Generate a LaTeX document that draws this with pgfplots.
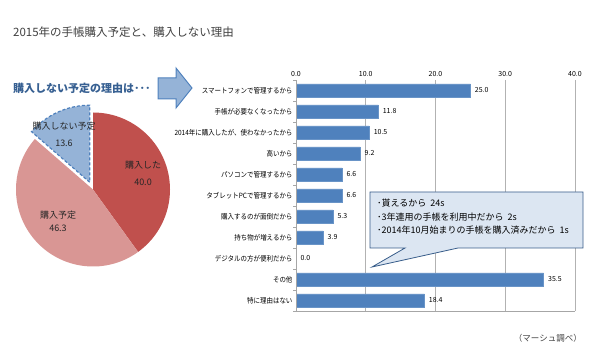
\documentclass[border=0pt]{standalone}
\usepackage{pgfplots}
\pgfplotsset{compat=1.18}
\usepackage{fontspec}
\setmainfont{Noto Sans CJK JP}
\newfontfamily\cond[FakeStretch=0.9]{Noto Sans CJK JP}
\definecolor{barblue}{HTML}{4F81BD}
\definecolor{pred}{HTML}{C0504D}
\definecolor{ppink}{HTML}{D99694}
\definecolor{pblue}{HTML}{95B3D7}
\definecolor{headblue}{HTML}{376092}
\definecolor{titlegray}{HTML}{404040}
\definecolor{callfill}{HTML}{DCE6F2}
\definecolor{callborder}{HTML}{385D8A}
\begin{document}
\begin{tikzpicture}[x=1pt,y=1pt]
\useasboundingbox (0,0) rectangle (600,-358);
% titles
\node[anchor=west, inner sep=0, font=\fontsize{11.5}{12}\selectfont, text=titlegray] at (13,-32) {2015年の手帳購入予定と、購入しない理由};
\node[anchor=west, inner sep=0, font=\bfseries\fontsize{11}{12}\selectfont, text=headblue] at (13,-88) {購入しない予定の理由は･･･};
% arrow
\draw[fill=pblue, draw=barblue, line width=1pt, line join=miter] (158,-78) -- (176,-78) -- (176,-68) -- (192,-88) -- (176,-108) -- (176,-99) -- (158,-99) -- cycle;
% pie
\pgfmathsetmacro{\tot}{40.0+46.3+13.6}
\pgfmathsetmacro{\aA}{90-40.0/\tot*360}
\pgfmathsetmacro{\aB}{\aA-46.3/\tot*360}
\pgfmathsetmacro{\aC}{\aB-13.6/\tot*360}
\pgfmathsetmacro{\aM}{(\aB+\aC)/2}
\begin{axis}[at={(93pt,-189.5pt)}, anchor=center, scale only axis, width=200pt, height=200pt,
  xmin=-100, xmax=100, ymin=-100, ymax=100, hide axis, clip=false]
\fill[pred] (axis cs:0,0) -- ++(90:77pt) arc[start angle=90, end angle=\aA, radius=77pt] -- cycle;
\fill[ppink] (axis cs:0,0) -- ++(\aA:77pt) arc[start angle=\aA, end angle=\aB, radius=77pt] -- cycle;
\draw[fill=pblue, draw=barblue, line width=1.2pt, dash pattern=on 3pt off 2pt, shift={(\aM:8pt)}] (axis cs:0,0) -- ++(\aB:77pt) arc[start angle=\aB, end angle=\aC, radius=77pt] -- cycle;
\node[font=\fontsize{9}{10}\selectfont, text=black!85] at (axis cs:50,24.5) {購入した};
\node[font=\fontsize{9}{10}\selectfont, text=black!85] at (axis cs:50,7.5) {40.0};
\node[font=\fontsize{9}{10}\selectfont, text=black!85] at (axis cs:-35,-25.5) {購入予定};
\node[font=\fontsize{9}{10}\selectfont, text=black!85] at (axis cs:-35,-38.5) {46.3};
\node[font=\fontsize{9}{10}\selectfont, text=black!85] at (axis cs:-29,63.5) {購入しない予定};
\node[font=\fontsize{9}{10}\selectfont, text=black!85] at (axis cs:-29,46.5) {13.6};
\end{axis}
% bar chart
\begin{axis}[at={(296pt,-80pt)}, anchor=north west, scale only axis, width=279pt, height=231pt,
  xbar, bar width=13pt,
  xmin=0, xmax=40, ymin=0.5, ymax=11.5,
  xtick={0,10,20,30,40}, xticklabel pos=upper,
  xticklabel style={/pgf/number format/.cd, fixed, fixed zerofill, precision=1, assume math mode=true},
  ticklabel style={font=\fontsize{7}{8}\selectfont},
  xtick style={draw=none},
  ytick={1,...,11},
  yticklabels={特に理由はない, その他, デジタルの方が便利だから, 持ち物が増えるから, 購入するのが面倒だから, タブレットPCで管理するから, パソコンで管理するから, 高いから, {2014年に購入したが、使わなかったから}, 手帳が必要なくなったから, スマートフォンで管理するから},
  yticklabel style={font=\cond\fontsize{7.2}{8}\selectfont, text=black},
  major tick length=0pt,
  minor ytick={0.5,1.5,...,11.5}, minor tick length=3pt, tick align=outside, ytick pos=left,
  minor tick style={gray!70},
  xmajorgrids, grid style={gray!60, line width=0.7pt},
  axis line style={draw=none},
  nodes near coords={\pgfmathprintnumber[fixed,fixed zerofill,precision=1,assume math mode=true]{\pgfplotspointmeta}},
  point meta=x,
  nodes near coords style={font=\fontsize{7}{8}\selectfont, text=black, anchor=west, xshift=1pt},
  clip=false]
\addplot[fill=barblue, draw=barblue!85!white] coordinates {(25.0,11) (11.8,10) (10.5,9) (9.2,8) (6.6,7) (6.6,6) (5.3,5) (3.9,4) (0.0,3) (35.5,2) (18.4,1)};
\draw[gray!70, line width=0.7pt] (rel axis cs:0,1) -- (rel axis cs:0,0) -- (rel axis cs:1,0);
\end{axis}
% callout
\draw[fill=callfill, draw=callborder, line width=0.8pt, line join=miter] (370,-192) -- (583,-192) -- (583,-248) -- (458,-248) -- (372,-267) -- (405,-248) -- (370,-248) -- cycle;
\node[anchor=north west, align=left, inner sep=0, font=\fontsize{9}{13.5}\selectfont, text=black] at (377,-199) {･貰えるから\ \ 24s\\･3年連用の手帳を利用中だから\ \ 2s\\･2014年10月始まりの手帳を購入済みだから\ \ 1s};
\node[anchor=east, inner sep=0, font=\fontsize{8.5}{9}\selectfont, text=titlegray] at (582,-338) {（マーシュ調べ）};
\end{tikzpicture}
\end{document}
